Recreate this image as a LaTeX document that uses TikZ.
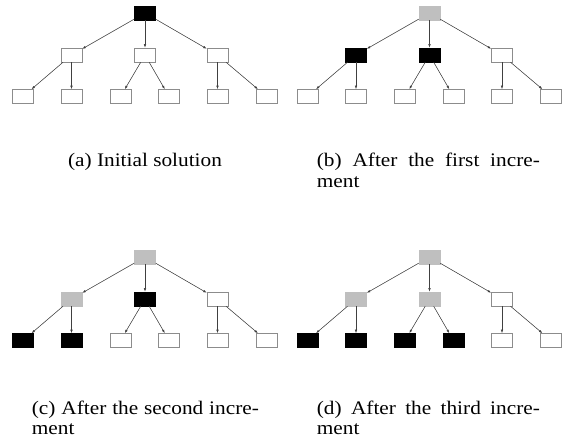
\documentclass[tikz,border=0pt]{standalone}
\usepackage{fontspec}
\setmainfont{Liberation Serif}
\usetikzlibrary{arrows.meta}
\definecolor{boxline}{gray}{0.55}
\definecolor{usedgray}{gray}{0.75}
\definecolor{linkgray}{gray}{0.25}

% One search tree: #1 name prefix, #2 shift, #3 root style,
% #4/#5 styles of the first two inner nodes, #6-#9 styles of the first four leaves
\newcommand\searchtree[9]{%
  \begin{scope}[shift={#2}]
    \node[#3] (#1r) at (145,13) {};
    \node[#4] (#1m1) at (71.5,55) {};
    \node[#5] (#1m2) at (145,55) {};
    \node[box] (#1m3) at (217.5,55) {};
    \node[#6] (#1l1) at (23,96.5) {};
    \node[#7] (#1l2) at (71.5,96.5) {};
    \node[#8] (#1l3) at (120.5,96.5) {};
    \node[#9] (#1l4) at (169,96.5) {};
    \node[box] (#1l5) at (217.5,96.5) {};
    \node[box] (#1l6) at (266.5,96.5) {};
    \draw[link] (#1r) -- (#1m1);
    \draw[link] (#1r) -- (#1m2);
    \draw[link] (#1r) -- (#1m3);
    \draw[link] (#1m1) -- (#1l1);
    \draw[link] (#1m1) -- (#1l2);
    \draw[link] (#1m2) -- (#1l3);
    \draw[link] (#1m2) -- (#1l4);
    \draw[link] (#1m3) -- (#1l5);
    \draw[link] (#1m3) -- (#1l6);
  \end{scope}}

% caption line, set slightly flattened
\newcommand\capline[1]{\scalebox{1}[0.9]{#1}}

\begin{document}
\begin{tikzpicture}[x=1pt,y=-1pt,
  box/.style={draw=boxline, fill=white, minimum width=21pt, minimum height=14pt,
    inner sep=0pt, line width=0.6pt},
  done/.style={box, fill=black, draw=black},
  used/.style={box, fill=usedgray, draw=usedgray},
  link/.style={-{Latex[length=3.5pt,width=2.4pt]}, draw=linkgray, fill=linkgray,
    line width=0.5pt},
  captext/.style={font=\fontsize{21.3}{20.5}\selectfont, inner sep=0pt, anchor=base west}]
  \useasboundingbox (0,0) rectangle (562,438);

  \searchtree{a}{(0,0)}{done}{box}{box}{box}{box}{box}{box}
  \searchtree{b}{(284.5,0)}{used}{done}{done}{box}{box}{box}{box}
  \searchtree{c}{(0,244)}{used}{used}{done}{done}{done}{box}{box}
  \searchtree{d}{(284.5,244)}{used}{used}{used}{done}{done}{done}{done}

  \node[captext, anchor=base] (capa) at (145,166.7) {\capline{(a) Initial solution}};
  \node[captext] (capb1) at (316.7,166.7) {\capline{\makebox[223pt][s]{(b) After the first incre-}}};
  \node[captext] (capb2) at (316.7,187.5) {\capline{ment}};
  \node[captext] (capc1) at (31.7,414) {\capline{\makebox[227pt][s]{(c) After the second incre-}}};
  \node[captext] (capc2) at (31.7,434.5) {\capline{ment}};
  \node[captext] (capd1) at (316.7,414) {\capline{\makebox[223pt][s]{(d) After the third incre-}}};
  \node[captext] (capd2) at (316.7,434.5) {\capline{ment}};
\end{tikzpicture}
\end{document}
